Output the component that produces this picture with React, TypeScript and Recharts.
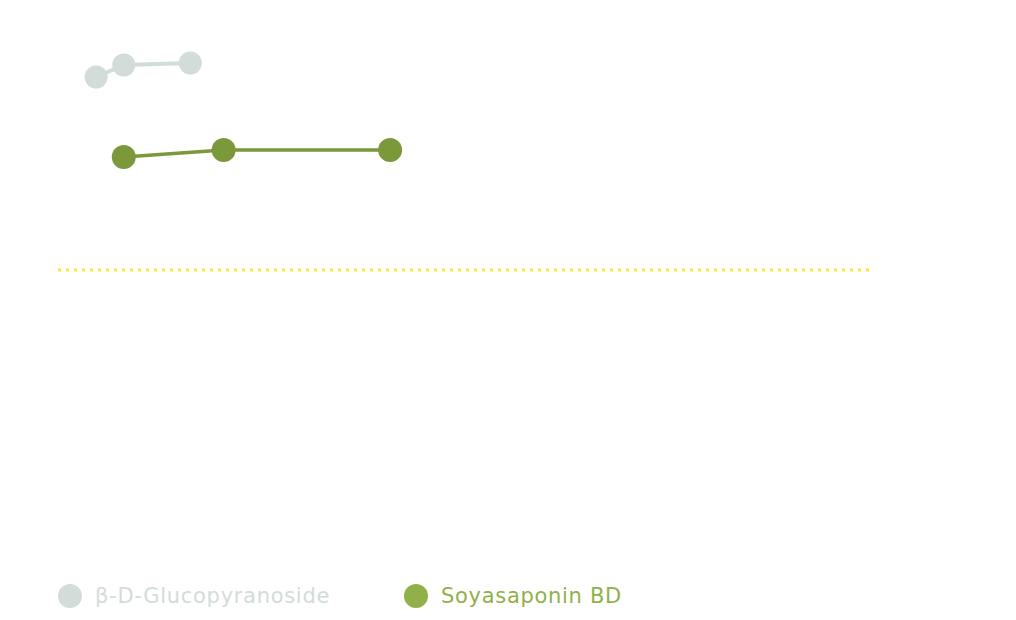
import React from "react";
import { LineChart, Line, XAxis, YAxis, ReferenceLine, Legend } from "recharts";

const glucoX = [4.7, 8.1, 16.3];
const glucoY = [88.6, 91.0, 91.4];
const soyaX = [8.1, 20.4, 40.9];
const soyaY = [72.6, 74.0, 74.0];
const referenceValue = 50;

const seriesNames = ["β-D-Glucopyranoside", "Soyasaponin BD"];
const seriesColors = ["#d2dcd9", "#7b983b"];
const legendColors = ["#d2dcd9", "#90b14a"];

const glucoData = glucoX.map((x, i) => ({ x, y: glucoY[i] }));
const soyaData = soyaX.map((x, i) => ({ x, y: soyaY[i] }));

const FONT = "'DejaVu Sans', 'Noto Sans', sans-serif";

const CustomLegend = () => (
  <div style={{ position: "relative", height: 30, fontFamily: FONT }}>
    {seriesNames.map((name, i) => (
      <div
        key={name}
        style={{
          position: "absolute",
          left: i === 0 ? 0 : 346,
          top: 0,
          height: 24,
          display: "flex",
          alignItems: "center",
          whiteSpace: "nowrap",
        }}
      >
        <span
          style={{
            display: "inline-block",
            width: 24,
            height: 24,
            borderRadius: 12,
            background: legendColors[i],
            marginRight: 13,
            flex: "none",
          }}
        />
        <span style={{ fontSize: 21, color: legendColors[i], letterSpacing: 0.7, lineHeight: "24px" }}>{name}</span>
      </div>
    ))}
  </div>
);

export default function App() {
  return (
    <div style={{ width: 1000, height: 612 }}>
      <LineChart width={1000} height={612} margin={{ top: 12, right: 138, bottom: 70, left: 50 }}>
        <XAxis type="number" dataKey="x" domain={[0, 100]} hide allowDuplicatedCategory={false} />
        <YAxis type="number" dataKey="y" domain={[0, 100]} hide />
        <ReferenceLine y={referenceValue} stroke="#ffe92e" strokeWidth={3} strokeDasharray="3 5" />
        <Line
          data={glucoData}
          dataKey="y"
          name={seriesNames[0]}
          stroke={seriesColors[0]}
          strokeWidth={4}
          dot={{ r: 11.5, fill: seriesColors[0], stroke: "none" }}
          activeDot={false}
          isAnimationActive={false}
        />
        <Line
          data={soyaData}
          dataKey="y"
          name={seriesNames[1]}
          stroke={seriesColors[1]}
          strokeWidth={3.5}
          dot={{ r: 12, fill: seriesColors[1], stroke: "none" }}
          activeDot={false}
          isAnimationActive={false}
        />
        <Legend
          content={<CustomLegend />}
          wrapperStyle={{ position: "absolute", left: 50, top: 576, width: 700, height: 30 }}
        />
      </LineChart>
    </div>
  );
}
